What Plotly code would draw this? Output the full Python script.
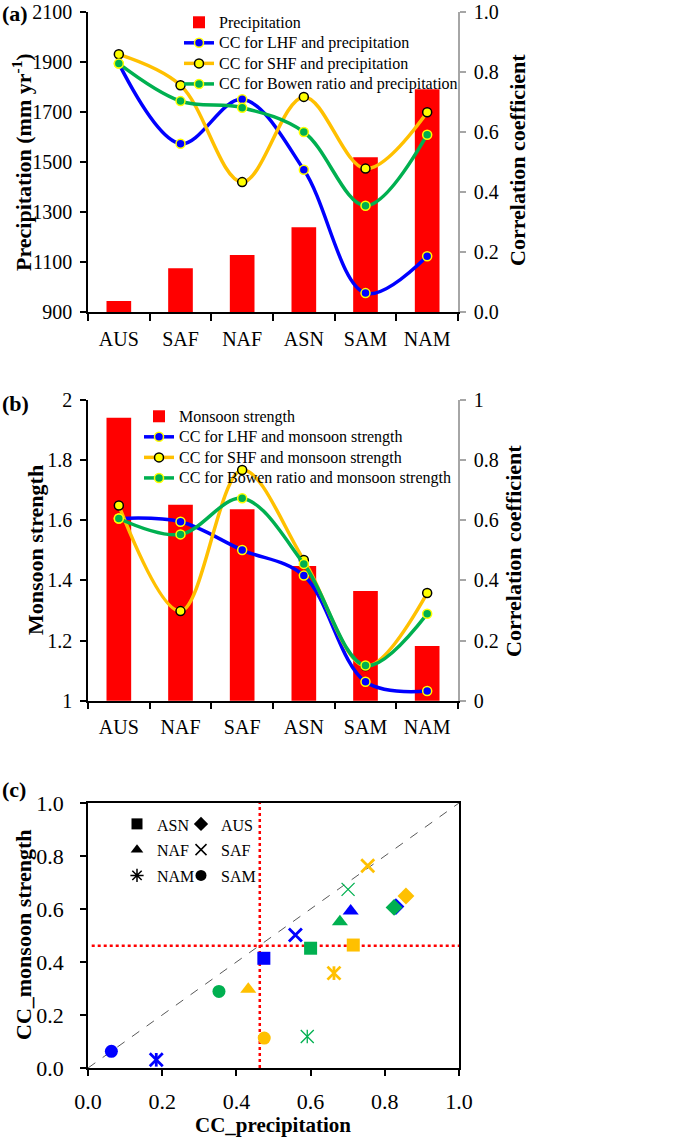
import plotly.graph_objects as go

W, H = 685, 1140
FONT = "Liberation Serif"

# ---------------- Data ----------------
# Panel (a)
regions_a = ["AUS", "SAF", "NAF", "ASN", "SAM", "NAM"]
precip = [944, 1075, 1128, 1239, 1519, 1791]
cc_lhf_precip = [0.828, 0.561, 0.709, 0.474, 0.063, 0.186]
cc_shf_precip = [0.859, 0.756, 0.433, 0.717, 0.478, 0.666]
cc_bowen_precip = [0.828, 0.703, 0.681, 0.600, 0.354, 0.591]

# Panel (b)
regions_b = ["AUS", "NAF", "SAF", "ASN", "SAM", "NAM"]
monsoon = [1.941, 1.652, 1.637, 1.448, 1.365, 1.182]
cc_lhf_monsoon = [0.606, 0.595, 0.501, 0.416, 0.063, 0.032]
cc_shf_monsoon = [0.649, 0.298, 0.767, 0.468, 0.115, 0.358]
cc_bowen_monsoon = [0.606, 0.553, 0.673, 0.455, 0.117, 0.289]

# Panel (c)
regions_c = ["ASN", "AUS", "NAF", "SAF", "NAM", "SAM"]
c_lhf_x = [0.474, 0.830, 0.708, 0.559, 0.184, 0.063]
c_lhf_y = [0.414, 0.609, 0.592, 0.502, 0.031, 0.063]
c_shf_x = [0.715, 0.857, 0.432, 0.754, 0.663, 0.475]
c_shf_y = [0.464, 0.649, 0.297, 0.763, 0.358, 0.113]
c_bowen_x = [0.600, 0.825, 0.679, 0.701, 0.591, 0.353]
c_bowen_y = [0.452, 0.606, 0.552, 0.674, 0.119, 0.289]
thr_x = 0.463
thr_y = 0.461
diag = [0, 1]

# ---------------- Styles ----------------
RED = "#FF0000"
BLUE = "#0000FF"
ORANGE = "#FFC000"
GREEN = "#00B050"
YELLOW = "#FFFF00"
GRAY_AX = "#A6A6A6"

region_symbol = {"ASN": "square", "AUS": "diamond", "NAF": "triangle-up",
                 "SAF": "x-thin-open", "NAM": "x-thin-open", "SAM": "circle"}
region_size = {"ASN": 13, "AUS": 13, "NAF": 14, "SAF": 13, "NAM": 13, "SAM": 13}


def fx(px):
    return px / W


def fy(py):
    return 1 - py / H


def big(txt, size=16):
    return f'<span style="font-size:{size}px">{txt}</span>'


fig = go.Figure()

line_specs_a = [
    ("CC for LHF and precipitation", cc_lhf_precip, BLUE, BLUE, YELLOW),
    ("CC for SHF and precipitation", cc_shf_precip, ORANGE, YELLOW, "#000000"),
    ("CC for Bowen ratio and precipitation", cc_bowen_precip, GREEN, GREEN, YELLOW),
]
line_specs_b = [
    ("CC for LHF and monsoon strength", cc_lhf_monsoon, BLUE, BLUE, YELLOW),
    ("CC for SHF and monsoon strength", cc_shf_monsoon, ORANGE, YELLOW, "#000000"),
    ("CC for Bowen ratio and monsoon strength", cc_bowen_monsoon, GREEN, GREEN, YELLOW),
]

# Panel (a)
fig.add_trace(go.Bar(x=regions_a, y=precip, name=big("Precipitation"), marker=dict(color=RED, line=dict(width=0)),
                     xaxis="x", yaxis="y", legend="legend"))
for name, vals, lc, mfill, mline in line_specs_a:
    fig.add_trace(go.Scatter(x=regions_a, y=vals, name=big(name), mode="lines+markers",
                             line=dict(color=lc, width=3.5, shape="spline", smoothing=1.0),
                             marker=dict(size=9, color=mfill, line=dict(color=mline, width=1.5)),
                             xaxis="x", yaxis="y2", legend="legend"))

# Panel (b)
fig.add_trace(go.Bar(x=regions_b, y=monsoon, name=big("Monsoon strength"), marker=dict(color=RED, line=dict(width=0)),
                     xaxis="x2", yaxis="y3", legend="legend2"))
for name, vals, lc, mfill, mline in line_specs_b:
    fig.add_trace(go.Scatter(x=regions_b, y=vals, name=big(name), mode="lines+markers",
                             line=dict(color=lc, width=3.5, shape="spline", smoothing=1.0),
                             marker=dict(size=9, color=mfill, line=dict(color=mline, width=1.5)),
                             xaxis="x2", yaxis="y4", legend="legend2"))

# Panel (c) reference lines
fig.add_trace(go.Scatter(x=diag, y=diag, mode="lines", line=dict(color="#595959", width=1, dash="dash"),
                         xaxis="x3", yaxis="y5", showlegend=False))
fig.add_trace(go.Scatter(x=[thr_x, thr_x], y=diag, mode="lines", line=dict(color=RED, width=2.5, dash="dot"),
                         xaxis="x3", yaxis="y5", showlegend=False))
fig.add_trace(go.Scatter(x=[0.01, 1], y=[thr_y, thr_y], mode="lines", line=dict(color=RED, width=2.5, dash="dot"),
                         xaxis="x3", yaxis="y5", showlegend=False))

# Panel (c) points
c_specs = [
    (c_lhf_x, c_lhf_y, BLUE, 2.8),
    (c_shf_x, c_shf_y, ORANGE, 2.8),
    (c_bowen_x, c_bowen_y, GREEN, 1.3),
]
nam_i = regions_c.index("NAM")
for xs, ys, col, xw in c_specs:
    syms = [region_symbol[r] for r in regions_c]
    sizes = [region_size[r] for r in regions_c]
    lws = [xw if region_symbol[r].startswith("x") else 0 for r in regions_c]
    fig.add_trace(go.Scatter(x=xs, y=ys, mode="markers",
                             marker=dict(symbol=syms, size=sizes, color=col, opacity=1,
                                         line=dict(color=col, width=lws)),
                             xaxis="x3", yaxis="y5", showlegend=False))
    fig.add_trace(go.Scatter(x=[xs[nam_i]], y=[ys[nam_i]], mode="markers",
                             marker=dict(symbol="line-ns-open", size=region_size["NAM"] * 0.75, opacity=1,
                                         color=col, line=dict(color=col, width=xw)),
                             xaxis="x3", yaxis="y5", showlegend=False))

# Panel (c) legend entries (black symbols)
legend_c_cols = {"legend3": ["ASN", "NAF", "NAM"], "legend4": ["AUS", "SAF", "SAM"]}
for lg, regs in legend_c_cols.items():
    for r in regs:
        sym = region_symbol[r]
        if r == "NAM":
            sym = "asterisk-open"
        lw = 1.5 if sym.endswith("open") else 0
        fig.add_trace(go.Scatter(x=[None], y=[None], mode="markers", name=big(r, 16),
                                 marker=dict(symbol=sym, size=11, color="black", opacity=1,
                                             line=dict(color="black", width=lw)),
                                 xaxis="x3", yaxis="y5", legend=lg, showlegend=True))

# ---------------- Layout ----------------
def xcat(domain, anchor, cats):
    return dict(domain=domain, anchor=anchor, type="category", categoryorder="array", categoryarray=cats,
                range=[-0.5, len(cats) - 0.5], showline=True, linecolor="black", linewidth=1.5,
                ticks="outside", tickson="boundaries", ticklen=7, tickcolor="black", tickwidth=1.5,
                tickfont=dict(family=FONT, size=20, color="black"), ticklabelstandoff=8,
                showgrid=False, zeroline=False, automargin=False, fixedrange=True)


def yleft(domain, anchor, rng, dtick, fmt=None):
    d = dict(domain=domain, anchor=anchor, range=rng, dtick=dtick, tick0=rng[0], showline=True,
             linecolor="black", linewidth=1.5, ticks="outside", ticklen=6, tickcolor="black", tickwidth=1.5,
             tickfont=dict(family=FONT, size=20, color="black"), ticklabelstandoff=4,
             showgrid=False, zeroline=False, automargin=False)
    if fmt:
        d["tickformat"] = fmt
    return d


def yright(overlay, anchor, fmt=None):
    d = dict(overlaying=overlay, side="right", anchor=anchor, range=[0, 1], dtick=0.2, tick0=0, showline=True,
             linecolor=GRAY_AX, linewidth=1.5, ticks="outside", ticklen=6, tickcolor=GRAY_AX, tickwidth=1.5,
             tickfont=dict(family=FONT, size=20, color="black"), ticklabelstandoff=4,
             showgrid=False, zeroline=False, automargin=False)
    if fmt:
        d["tickformat"] = fmt
    return d


leg_common = dict(xanchor="left", yanchor="top", bgcolor="rgba(0,0,0,0)", tracegroupgap=0,
                  traceorder="normal", itemwidth=30)

xdom = [fx(88), fx(458)]
fig.update_layout(
    width=W, height=H,
    margin=dict(l=0, r=0, t=0, b=0, pad=0, autoexpand=False),
    paper_bgcolor="white", plot_bgcolor="white",
    bargap=0.6,
    font=dict(family=FONT, color="black"),
    xaxis=xcat(xdom, "y", regions_a),
    yaxis=yleft([fy(312), fy(12)], "x", [900, 2100], 200),
    yaxis2=yright("y", "x", ".1f"),
    xaxis2=xcat(xdom, "y3", regions_b),
    yaxis3=yleft([fy(700.7), fy(400)], "x2", [1, 2], 0.2),
    yaxis4=yright("y3", "x2"),
    xaxis3=dict(domain=[fx(88), fx(459)], anchor="y5", range=[0, 1], dtick=0.2, tick0=0, tickformat=".1f",
                showline=True, mirror=True, linecolor="black", linewidth=1.5, ticks="outside", ticklen=6,
                tickcolor="black", tickwidth=1.5, tickfont=dict(family=FONT, size=22, color="black"),
                ticklabelstandoff=7, showgrid=False, zeroline=False, automargin=False),
    yaxis5=dict(domain=[fy(1068), fy(803)], anchor="x3", range=[0, 1], dtick=0.2, tick0=0, tickformat=".1f",
                showline=True, mirror=True, linecolor="black", linewidth=1.5, ticks="outside", ticklen=6,
                tickcolor="black", tickwidth=1.5, tickfont=dict(family=FONT, size=22, color="black"),
                ticklabelstandoff=12, showgrid=False, zeroline=False, automargin=False),
    legend=dict(x=fx(179), y=fy(7), font=dict(family=FONT, size=13.5, color="black"), **leg_common),
    legend2=dict(x=fx(139), y=fy(401), font=dict(family=FONT, size=13.5, color="black"), **leg_common),
    legend3=dict(x=fx(117), y=fy(806), font=dict(family=FONT, size=17.5, color="black"), **leg_common),
    legend4=dict(x=fx(181), y=fy(806), font=dict(family=FONT, size=17.5, color="black"), **leg_common),
    showlegend=True,
)

annos = [
    ("<b>(a)</b>", 0, 13, 0, 22, "left"),
    ("<b>(b)</b>", 0, 403, 0, 22, "left"),
    ("<b>(c)</b>", 0, 789, 0, 22, "left"),
    ("<b>Precipitation (mm yr<sup>-1</sup>)</b>", 22, 162, -90, 22, "center"),
    ("<b>Correlation coefficient</b>", 517, 160, -90, 22, "center"),
    ("<b>Monsoon strength</b>", 36, 550, -90, 22, "center"),
    ("<b>Correlation coefficient</b>", 513, 551, -90, 22, "center"),
    ("<b>CC_monsoon strength</b>", 23, 935, -90, 22, "center"),
    ("<b>CC_precipitation</b>", 273, 1125, 0, 21, "center"),
]
for text, px, py, ang, size, xa in annos:
    fig.add_annotation(text=text, x=fx(px), y=fy(py), xref="paper", yref="paper", xanchor=xa, yanchor="middle",
                       textangle=ang, showarrow=False, font=dict(family=FONT, size=size, color="black"))

fig.write_html("out.html", config={"displayModeBar": False},
               post_script="document.body.style.margin='0';document.body.style.padding='0';")
